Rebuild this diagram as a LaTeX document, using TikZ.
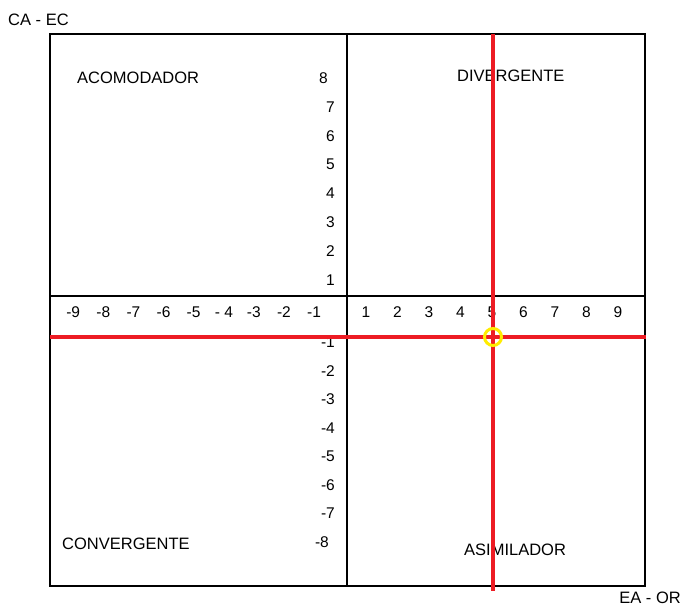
\documentclass[tikz,border=0pt]{standalone}
\usepackage{fontspec}
\setmainfont{Liberation Sans}
\usepackage{tikz}
\usetikzlibrary{positioning,calc}
\definecolor{marca}{RGB}{237,28,36}
\definecolor{aro}{RGB}{255,236,0}
\tikzstyle{lbl}=[inner sep=0pt, font=\fontsize{16.5}{18}\selectfont]
\tikzstyle{num}=[inner sep=0pt, font=\fontsize{15.5}{18}\selectfont]
\tikzstyle{eje}=[line width=3.5pt, color=marca]
\begin{document}
\begin{tikzpicture}[x=1pt,y=-1pt]
				\useasboundingbox(0,0)rectangle(685,609);
				\fill[white](0,0)rectangle(685,609);
				% marco
				\coordinate(NW)at(50,34);
				\coordinate(SE)at(645,586);
				\coordinate(mT)at(347,34);
				\coordinate(mB)at(347,586);
				\coordinate(hL)at(50,296);
				\coordinate(hR)at(645,296);
				\draw[line width=1.1pt](NW)rectangle(SE);
				\draw[line width=1.1pt](mT)--(mB);
				\draw[line width=1.1pt](hL)--(hR);
				% textos
				\node[lbl, anchor=west](caec)at(8,20){CA - EC};
				\node[lbl, anchor=east](eaor)at(681,598){EA - OR};
				\node[lbl, anchor=west](acom)at(77,78){ACOMODADOR};
				\node[lbl, anchor=west](div)at(457,76){DIVERGENTE};
				\node[lbl, anchor=west](conv)at(62,544){CONVERGENTE};
				\node[lbl, anchor=west](asim)at(464,550){ASIMILADOR};
				% numeros
				\foreach \k in {1,...,9}
					\node[num](px\k)at({366+31.5*(\k-1)},312){\k};
				\foreach \k in {1,2,3,5,6,7,8,9}
					\node[num](nx\k)at({314-30.1*(\k-1)},312){-\k};
				\node[num](nx4)at(224,312){- 4};
				\foreach \k in {1,...,7}
					\node[num, anchor=east](py\k)at(335,{78+28.9*(8-\k)}){\k};
				\node[num, anchor=east](py8)at(328,78){8};
				\foreach \k in {1,...,7}
					\node[num, anchor=east](ny\k)at(335,{342+28.6*(\k-1)}){-\k};
				\node[num, anchor=east](ny8)at(329,542){-8};
				% resultado
				\coordinate(rT)at(493,34);
				\coordinate(rB)at(493,591);
				\coordinate(rL)at(50,337);
				\coordinate(rR)at(646,337);
				\draw[eje](rL)--(rR);
				\draw[eje](rT)--(rB);
				\node[circle, draw=aro, line width=3pt, minimum size=17pt, inner sep=0pt](pto)at(493,337){};
				\draw[marca, line width=2.5pt]($(pto.center)+(-5,0)$)--($(pto.center)+(5,0)$);
				\draw[marca, line width=2.5pt]($(pto.center)+(0,-5)$)--($(pto.center)+(0,5)$);
			\end{tikzpicture}
\end{document}
